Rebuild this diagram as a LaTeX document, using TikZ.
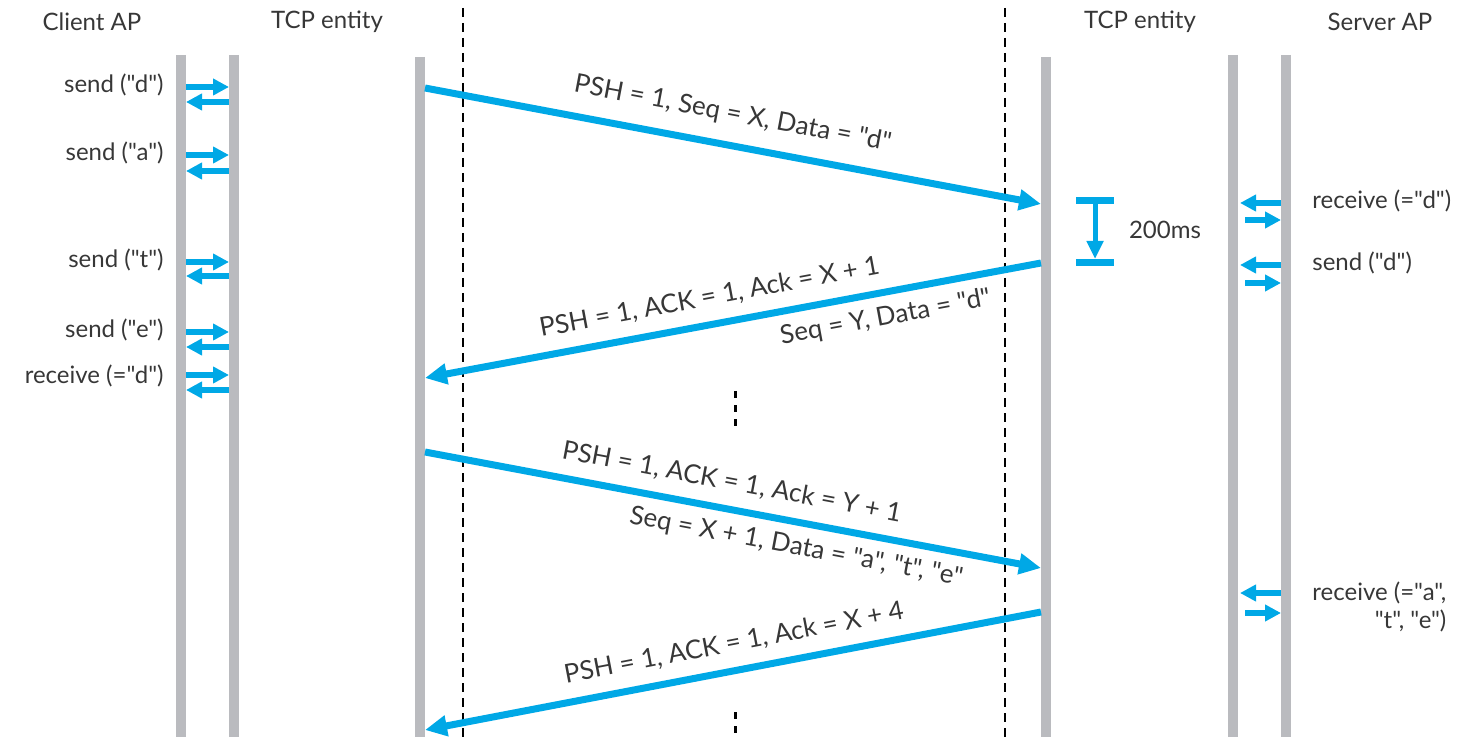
\documentclass[tikz,border=0pt]{standalone}
\usepackage{fontspec}
\setmainfont{Lato}[Ligatures=TeXOff]
\usetikzlibrary{arrows.meta}

\definecolor{tcpblue}{RGB}{0,168,230}
\definecolor{bargray}{RGB}{186,187,191}
\definecolor{txtgray}{RGB}{55,55,55}

\begin{document}
\begin{tikzpicture}[x=0.5pt, y=-0.5pt, >={Triangle[length=11pt,width=10pt]},
  lifeline/.style={line width=5pt, bargray},
  border/.style={line width=1pt, dash pattern=on 4.5pt off 3pt},
  gap/.style={line width=1.5pt, dash pattern=on 3.5pt off 3.5pt},
  msg/.style={line width=3.5pt, tcpblue, ->},
  prim/.style={line width=3pt, tcpblue, -{Triangle[length=8pt,width=8pt]}},
  lbl/.style={font=\fontsize{12}{14}\selectfont, text=txtgray, inner sep=1pt},
  seglbl/.style={lbl, font=\fontsize{13}{15}\selectfont, sloped}]
\useasboundingbox (0,0) rectangle (1482,737);

% headings
\node[lbl] (hClient) at (92,22) {Client AP};
\node[lbl] (hTcpA) at (327,22) {TCP entity};
\node[lbl] (hTcpB) at (1140,22) {TCP entity};
\node[lbl] (hServer) at (1380,22) {Server AP};

% lifelines and network borders
\draw[lifeline] (181,55) -- (181,737);
\draw[lifeline] (234,55) -- (234,737);
\draw[lifeline] (420,57) -- (420,737);
\draw[lifeline] (1046,57) -- (1046,737);
\draw[lifeline] (1233,55) -- (1233,737);
\draw[lifeline] (1286,55) -- (1286,737);
\draw[border] (463,8) -- (463,737);
\draw[border] (1005,8) -- (1005,737);

% client side primitives
\node[lbl, anchor=east] (cSendD) at (166,85) {send ("d")};
\draw[prim] (186,87) -- (229,87);
\draw[prim] (229,102) -- (186,102);
\node[lbl, anchor=east] (cSendA) at (166,153) {send ("a")};
\draw[prim] (186,155) -- (229,155);
\draw[prim] (229,171) -- (186,171);
\node[lbl, anchor=east] (cSendT) at (166,260) {send ("t")};
\draw[prim] (186,262) -- (229,262);
\draw[prim] (229,276) -- (186,276);
\node[lbl, anchor=east] (cSendE) at (166,330) {send ("e")};
\draw[prim] (186,332) -- (229,332);
\draw[prim] (229,347) -- (186,347);
\node[lbl, anchor=east] (cRecv) at (166,376) {receive (="d")};
\draw[prim] (186,375) -- (229,375);
\draw[prim] (229,390) -- (186,390);

% server side primitives
\node[lbl, anchor=west] (sRecvD) at (1310,201) {receive (="d")};
\draw[prim] (1281,203) -- (1240,203);
\draw[prim] (1245,220) -- (1281,220);
\node[lbl, anchor=west] (sSendD) at (1310,263) {send ("d")};
\draw[prim] (1281,265) -- (1240,265);
\draw[prim] (1245,283) -- (1281,283);
\node[lbl, anchor=north west, align=right] (sRecvATE) at (1310,579) {receive (="a",\\"t", "e")};
\draw[prim] (1281,593) -- (1240,593);
\draw[prim] (1245,613) -- (1281,613);

% segment end points
\coordinate (m1s) at (425,88);
\coordinate (m1e) at (1041,204);
\coordinate (m2s) at (1041,263);
\coordinate (m2e) at (425,378);
\coordinate (m3s) at (425,452);
\coordinate (m3e) at (1041,568);
\coordinate (m4s) at (1041,612);
\coordinate (m4e) at (425,730);

% segments
\draw[msg] (m1s) -- (m1e)
  node[seglbl, above=7pt, pos=0.49] (seg1) {PSH = 1, Seq = X, Data = "d"};
\draw[msg] (m2s) -- (m2e)
  node[seglbl, above=5pt, pos=0.53] (seg2) {PSH = 1, ACK = 1, Ack = X + 1}
  node[seglbl, below=4pt, pos=0.26] (seg2b) {Seq = Y, Data = "d"};
\draw[msg] (m3s) -- (m3e)
  node[seglbl, above=5pt, pos=0.49] (seg3) {PSH = 1, ACK = 1, Ack = Y + 1}
  node[seglbl, below=4pt, pos=0.61] (seg3b) {Seq = X + 1, Data = "a", "t", "e"};
\draw[msg] (m4s) -- (m4e)
  node[seglbl, above=5pt, pos=0.49] (seg4) {PSH = 1, ACK = 1, Ack = X + 4};

% 200ms delay
\coordinate (dTop) at (1095,201);
\coordinate (dBot) at (1095,263);
\draw[tcpblue, line width=3.5pt] (1076,201) -- (1114,201);
\draw[tcpblue, line width=3.5pt] (1076,263) -- (1114,263);
\draw[tcpblue, line width=2.5pt, -{Triangle[length=9pt,width=8pt]}] (dTop) -- ([yshift=2pt]dBot);
\node[lbl] (delay) at (1165,230) {200ms};

% time gaps
\draw[gap] (735,391) -- (735,427);
\draw[gap] (735,712) -- (735,737);
\end{tikzpicture}
\end{document}
